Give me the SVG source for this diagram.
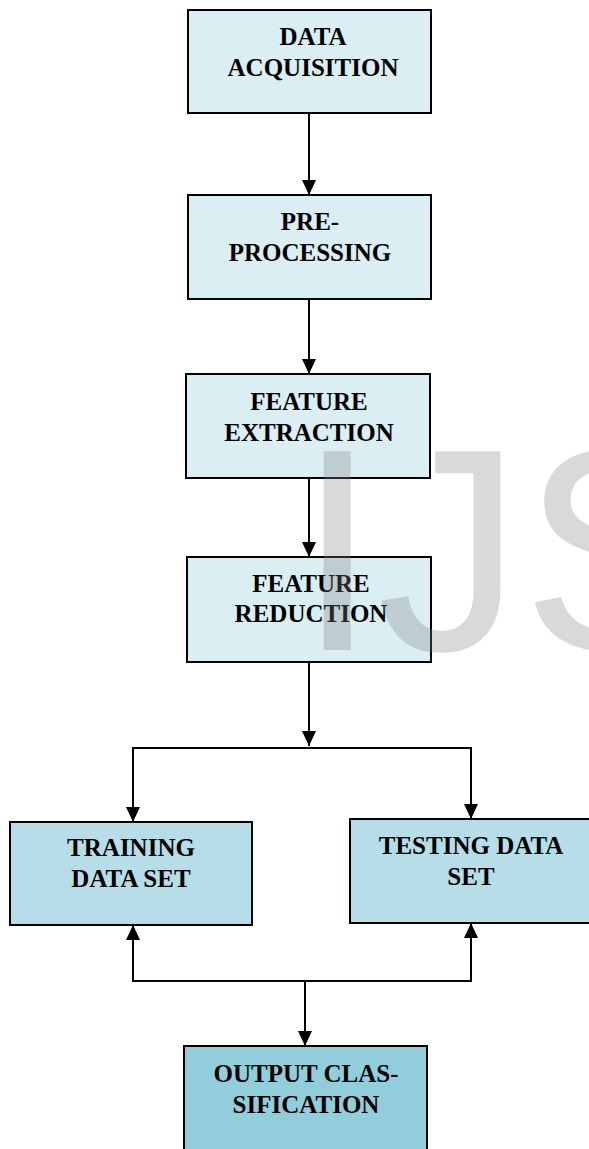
<svg xmlns="http://www.w3.org/2000/svg" width="589" height="1149" viewBox="0 0 589 1149">
<style>
.box{stroke:#000;stroke-width:2}
.l1{fill:#DAEEF3}
.l2{fill:#B7DEE8}
.l3{fill:#92CDDC}
.t{font-family:"Liberation Serif",serif;font-weight:bold;font-size:25px;fill:#000;text-anchor:middle}
.c{fill:none;stroke:#000;stroke-width:2}
.wm{font-family:"Liberation Sans",Arial,sans-serif;font-size:289px;fill:#808080;fill-opacity:0.3}
</style>
<defs>
<marker id="ah" viewBox="0 0 15 14" refX="15" refY="7" markerWidth="15" markerHeight="14" markerUnits="userSpaceOnUse" orient="auto">
<path d="M0,0 L15,7 L0,14 Z" fill="#000"/>
</marker>
</defs>
<rect width="589" height="1149" fill="#fff"/>
<g id="connectors">
<line class="c" x1="309" y1="113" x2="309" y2="195" marker-end="url(#ah)"/>
<line class="c" x1="309" y1="299" x2="309" y2="374" marker-end="url(#ah)"/>
<line class="c" x1="309" y1="478" x2="309" y2="557" marker-end="url(#ah)"/>
<line class="c" x1="309" y1="662" x2="309" y2="746" marker-end="url(#ah)"/>
<polyline class="c" points="133,822 133,748 471,748 471,819" marker-end="url(#ah)"/>
<line class="c" x1="133" y1="748" x2="133" y2="822" marker-end="url(#ah)"/>
<polyline class="c" points="133,925 133,981 471,981 471,923" marker-end="url(#ah)"/>
<line class="c" x1="133" y1="981" x2="133" y2="925" marker-end="url(#ah)"/>
<line class="c" x1="305" y1="981" x2="305" y2="1046" marker-end="url(#ah)"/>
</g>
<g id="n1"><rect class="box l1" x="188" y="10" width="243" height="103"/><text class="t" x="313" y="45">DATA</text><text class="t" x="313" y="76">ACQUISITION</text></g>
<g id="n2"><rect class="box l1" x="188" y="195" width="243" height="104"/><text class="t" x="310" y="230">PRE-</text><text class="t" x="310" y="261">PROCESSING</text></g>
<g id="n3"><rect class="box l1" x="186" y="374" width="244" height="104"/><text class="t" x="309" y="410">FEATURE</text><text class="t" x="309" y="441">EXTRACTION</text></g>
<g id="n4"><rect class="box l1" x="187" y="557" width="244" height="105"/><text class="t" x="311" y="592">FEATURE</text><text class="t" x="311" y="622">REDUCTION</text></g>
<g id="n5"><rect class="box l2" x="10" y="822" width="242" height="103"/><text class="t" x="131" y="856">TRAINING</text><text class="t" x="131" y="887">DATA SET</text></g>
<g id="n6"><rect class="box l2" x="350" y="819" width="241" height="104"/><text class="t" x="471" y="854">TESTING DATA</text><text class="t" x="471" y="885">SET</text></g>
<g id="n7"><rect class="box l3" x="184" y="1046" width="243" height="110"/><text class="t" x="306" y="1082">OUTPUT CLAS-</text><text class="t" x="306" y="1113">SIFICATION</text></g>
<text class="wm" x="297" y="650">IJS</text>
</svg>
